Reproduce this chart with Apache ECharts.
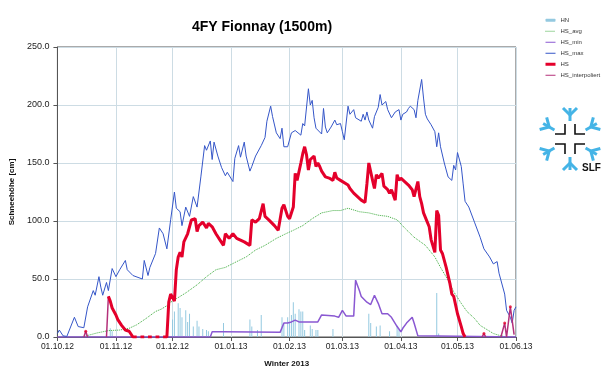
<!DOCTYPE html>
<html><head><meta charset="utf-8">
<script src="https://cdn.jsdelivr.net/npm/echarts@6/dist/echarts.min.js"></script>
<style>html,body{margin:0;padding:0;background:#fff}#c{width:616px;height:376px}</style>
</head><body><div id="c"></div>
<script>
// ---- axis categories: every day of winter 2012/13 (01.10.12 .. 01.06.13)
function pad(n){return (n<10?'0':'')+n;}
const startDate = Date.UTC(2012, 9, 1);
const nDays = 244;
const categories = [];
for (let i = 0; i < nDays; i++) {
  const d = new Date(startDate + i * 86400000);
  categories.push(pad(d.getUTCDate()) + '.' + pad(d.getUTCMonth() + 1) + '.' + pad(d.getUTCFullYear() % 100));
}
const yTicks = [0, 50, 100, 150, 200, 250];

// ---- values: [day since 01.10.12, cm]
const hsMax = [[0,3],[1,6],[3,1],[5,0.5],[9,17],[11,9],[14,8],[16,26],[17,27],[19,40],[20,36],[22,52],[23,43],[24,36],[26,47],[27,40],[29,59],[30,58],[31,52],[33,58],[36,66],[37,58],[40,53],[45,50],[46,66],[48,53],[49,60],[52,72],[54,94],[56,89],[58,76],[60,101],[62,125],[63,111],[65,108],[66,96],[68,112],[70,104],[72,121],[74,112],[76,138],[78,165],[79,161],[81,169],[82,153],[83,168],[85,156],[87,146],[89,139],[90,142],[93,134],[94,154],[96,165],[97,155],[99,168],[100,156],[102,143],[103,147],[105,156],[108,165],[110,172],[111,186],[113,199],[114,190],[116,176],[118,171],[119,180],[120,164],[122,164],[124,176],[126,178],[129,174],[130,184],[131,182],[133,214],[134,200],[135,204],[136,189],[137,180],[140,175],[141,197],[142,181],[143,176],[145,181],[147,187],[148,183],[150,184],[151,177],[152,170],[154,199],[155,192],[157,196],[158,189],[161,186],[162,192],[163,187],[164,194],[165,187],[167,180],[168,190],[170,198],[171,209],[172,200],[174,203],[175,196],[177,189],[179,194],[181,196],[182,187],[183,192],[185,194],[186,197],[187,199],[189,196],[190,189],[191,204],[193,222],[194,206],[195,192],[196,188],[198,183],[200,177],[201,164],[202,176],[203,164],[205,150],[207,138],[209,135],[210,148],[211,144],[212,159],[214,147],[215,132],[216,117],[218,112],[221,99],[224,86],[226,76],[229,69],[231,63],[233,65],[234,55],[237,37],[238,23],[240,17],[241,12],[242,23],[243,26]];

const hs = [[27,35],[28,31],[29,25],[31,19],[32,15],[34,10],[36,6],[38,5],[39,4],[40,0],[42,0],[43,'-'],[44,0],[46,0],[47,'-'],[48,0],[50,0],[51,'-'],[52,0],[54,0],[55,'-'],[56,0],[58,0],[59,30],[60,37],[61,36],[62,31],[63,58],[64,69],[65,73],[66,69],[67,82],[69,89],[70,95],[71,101],[73,102],[74,91],[75,96],[77,99],[79,94],[80,98],[82,95],[84,89],[86,84],[88,79],[89,89],[91,85],[93,89],[95,85],[96,84],[99,82],[102,79],[103,101],[105,99],[107,102],[109,115],[110,104],[112,101],[115,96],[117,92],[119,111],[120,114],[122,104],[123,102],[125,112],[126,141],[127,135],[129,150],[130,158],[131,164],[132,157],[133,144],[134,153],[136,156],[137,147],[138,150],[139,147],[140,143],[142,138],[144,137],[146,135],[147,142],[148,137],[150,135],[151,134],[154,131],[155,128],[157,124],[159,121],[161,118],[163,116],[164,132],[165,150],[167,135],[168,128],[169,140],[170,137],[172,141],[173,130],[175,127],[176,124],[177,127],[179,118],[180,140],[181,135],[182,137],[184,134],[186,131],[188,127],[189,121],[191,134],[192,121],[193,115],[194,107],[196,99],[197,95],[198,84],[200,73],[201,109],[202,105],[203,75],[204,72],[206,60],[208,46],[209,37],[210,35],[212,20],[214,9],[215,3],[216,0]];

const hsDots = [[15,5],[226,3],[237,12],[240,26]];

const hsInterp = [[14,0],[15,5],[16,0],[17,'-'],[26,0],[27,35],[28,'-'],[225,0],[226,3],[227,0],[228,'-'],[235,0],[237,12],[238,0],[240,26],[242,2]];

const hsMin = [[0,0],[81,0],[82,4.5],[88,4.5],[89,4],[118,4],[120,12],[122,12],[124,13],[126,14.5],[128,13],[138,13],[140,19],[147,18],[149,17],[151,23],[153,18],[157,18],[158,49],[160,40],[161,35],[164,30],[166,28],[168,36],[170,29],[172,20],[175,20],[177,17],[180,9],[182,4.5],[183,7.5],[185,12],[188,17],[189,12],[191,1],[192,0],[243,0]];

const hsAvg = [[13,0],[21,3.5],[27,5.5],[33,6],[38,7.5],[42,10.5],[47,16],[52,22],[55,24],[58,27],[60,30],[63,33],[68,38],[74,45],[79,52],[84,58],[89,60],[95,65],[100,69],[105,75],[110,79],[116,85],[121,89],[125,92],[130,96],[135,102],[140,107],[146,109],[150,109],[154,111],[160,108],[165,107],[170,105],[175,104],[180,101],[184,94],[189,86],[195,79],[200,69],[203,60],[207,49],[210,39],[214,29],[217,22],[221,16],[224,10],[228,6],[231,3],[235,1],[238,0]];

const hn = [[28,7.5],[29,5],[61,15],[62,22],[64,29],[65,25],[66,17],[68,23],[69,13],[70,20],[72,9],[74,14],[75,9],[77,7],[79,6],[80,5],[88,12],[102,15],[103,9],[106,6],[108,19],[119,17],[120,12],[122,17],[123,13],[124,19],[125,30],[126,20],[128,24],[129,22],[130,22],[131,6],[134,10],[135,7],[137,6],[138,6],[146,7],[165,20],[166,12],[169,9],[171,10],[176,5],[180,10],[181,6],[201,38],[202,3]];

const toPairs = arr => arr.map(p => [categories[p[0]], p[1]]);
const isMonthStart = (i, v) => String(v).slice(0, 3) === '01.';

const FONT = 'Liberation Sans, Arial, sans-serif';

// ---- SLF logo (decoration)
const cx = 570, cy = 139;
const logo = [];
[-90, 90, -30, 30, 150, 210].forEach(a => {
  const r = a * Math.PI / 180, ux = Math.cos(r), uy = Math.sin(r), px = -uy, py = ux;
  const P = (rad, lat) => [cx + ux * rad + px * lat, cy + uy * rad + py * lat];
  logo.push({type:'polyline', shape:{points:[P(18,0), P(31,0)]}, style:{stroke:'#45b4e6', lineWidth:3, fill:null}});
  logo.push({type:'polyline', shape:{points:[P(31,-7), P(24,0), P(31,7)]}, style:{stroke:'#45b4e6', lineWidth:3, fill:null}});
});
const A = 5, L = 15;
[[1,1],[1,-1],[-1,1],[-1,-1]].forEach(([sx, sy]) => {
  logo.push({type:'polyline', shape:{points:[[cx + sx*A, cy + sy*L], [cx + sx*A, cy + sy*A], [cx + sx*L, cy + sy*A]]}, style:{stroke:'#111', lineWidth:1.6, fill:null}});
});
logo.push({type:'text', left:582, top:163, style:{text:'SLF', font:'bold 10px ' + FONT, fill:'#111'}});

const lineIcon = {color:'transparent', borderWidth:0, opacity:0};
const chart = echarts.init(document.getElementById('c'), null, {renderer:'canvas'});
chart.setOption({
  animation: false,
  backgroundColor: '#fff',
  title: {text:'4FY Fionnay (1500m)', left:192, top:20, padding:0,
    textStyle:{fontFamily:FONT, fontSize:14, fontWeight:'bold', color:'#000'}},
  legend: {orient:'vertical', left:544, top:17, padding:0, itemWidth:10, itemHeight:3, itemGap:4.5,
    lineStyle:{width:1},
    textStyle:{fontFamily:FONT, fontSize:6, color:'#333', lineHeight:6.5},
    data:[
      {name:'HN'},
      {name:'HS_avg', itemStyle:lineIcon},
      {name:'HS_min', itemStyle:lineIcon},
      {name:'HS_max', itemStyle:lineIcon},
      {name:'HS', lineStyle:{width:3}, itemStyle:lineIcon},
      {name:'HS_interpoliert', itemStyle:lineIcon}]},
  grid: {left:53, top:47, width:463, height:290, show:true, borderColor:'#555', borderWidth:1, backgroundColor:'transparent'},
  xAxis: {type:'category', data:categories, boundaryGap:false,
    name:'Winter 2013', nameLocation:'middle', nameGap:23,
    nameTextStyle:{fontFamily:FONT, fontSize:8, fontWeight:'bold', color:'#111'},
    axisLine:{lineStyle:{color:'#555', width:1}},
    axisTick:{interval:isMonthStart, length:4, lineStyle:{color:'#555'}},
    axisLabel:{interval:isMonthStart, fontFamily:FONT, fontSize:8.5, color:'#222', margin:5},
    splitLine:{show:true, interval:isMonthStart, lineStyle:{color:'#cddce4', width:1}}},
  yAxis: {type:'value', min:yTicks[0], max:yTicks[yTicks.length-1], interval:50,
    name:'Schneehöhe [cm]', nameLocation:'middle', nameGap:30,
    nameTextStyle:{fontFamily:FONT, fontSize:8, fontWeight:'bold', color:'#111'},
    axisLine:{show:true, lineStyle:{color:'#555', width:1}},
    axisTick:{show:true, length:4, lineStyle:{color:'#555'}},
    axisLabel:{formatter:v => v.toFixed(1), fontFamily:FONT, fontSize:9, color:'#222', margin:8},
    splitLine:{lineStyle:{color:'#cddce4', width:1}}},
  graphic: logo,
  series: [
    {name:'HN', type:'bar', data:toPairs(hn), barWidth:1, itemStyle:{color:'#94c9e0'}, z:1},
    {name:'HS_avg', type:'line', data:toPairs(hsAvg), symbol:'none', color:'#3caa3c',
      lineStyle:{width:1, type:'dotted', color:'#3caa3c'}, z:2},
    {name:'HS_min', type:'line', data:toPairs(hsMin), symbol:'none', color:'#8a58d2',
      lineStyle:{width:1.5, color:'#8a58d2'}, z:3},
    {name:'HS_max', type:'line', data:toPairs(hsMax), symbol:'none', color:'#3556c8',
      lineStyle:{width:1, color:'#3556c8'}, z:3},
    {name:'HS_interpoliert', type:'line', data:toPairs(hsInterp), symbol:'none', color:'#b4307a',
      lineStyle:{width:1.5, color:'#b4307a'}, z:4},
    {name:'HS', type:'line', data:toPairs(hs), symbol:'none', color:'#e4002b',
      lineStyle:{width:3, color:'#e4002b'}, z:5},
    {name:'HS', type:'scatter', data:toPairs(hsDots), symbolSize:3, itemStyle:{color:'#e4002b'}, z:6}
  ]
});
</script></body></html>
